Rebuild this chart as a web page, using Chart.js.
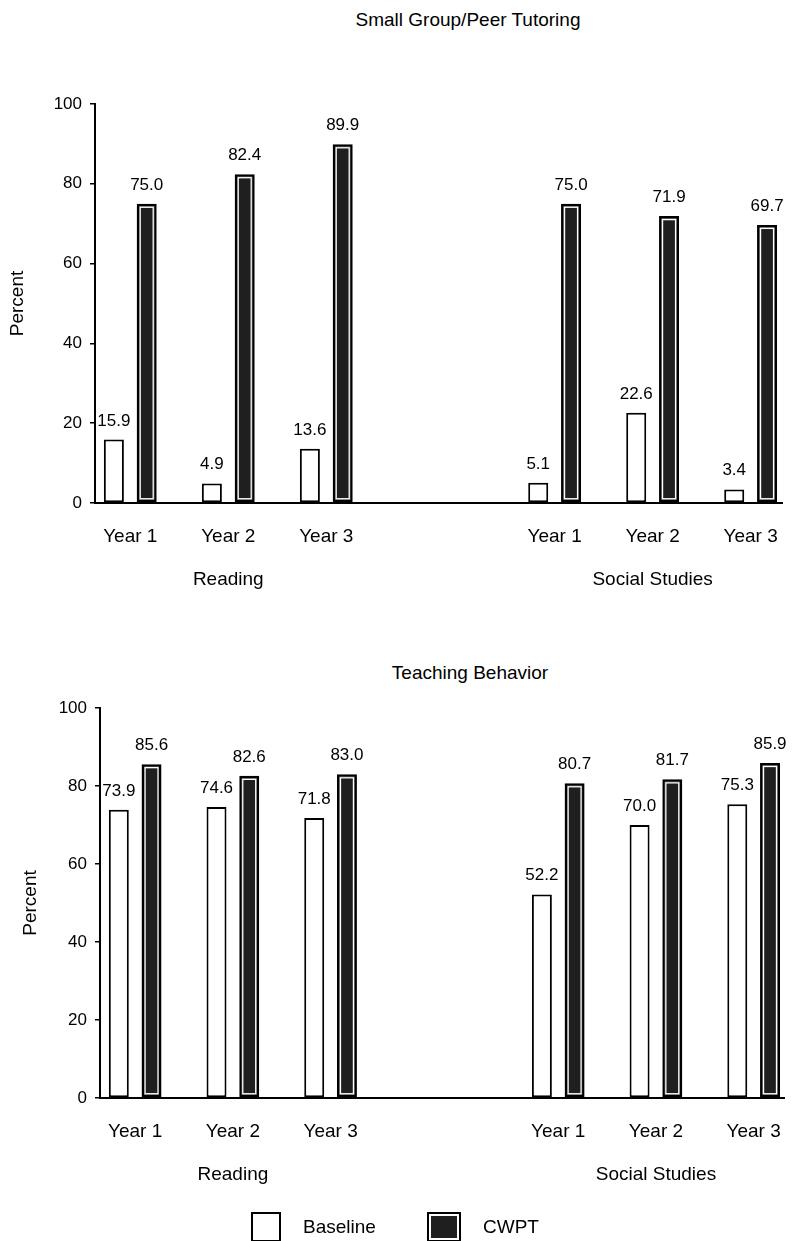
<!DOCTYPE html>
<html>
  <head>
    <title>Small Group/Peer Tutoring and Teaching Behavior</title>
    <script src="https://cdn.jsdelivr.net/npm/chart.js"></script>
    <style>
      body {
        margin: 0;
        width: 795px;
        height: 1241px;
        position: relative;
        overflow: hidden;
        background: #fff;
        font-family: "Liberation Sans", Arial, sans-serif;
        color: #000;
      }
      canvas {
        position: absolute;
        left: 0;
      }
      .titulo {
        position: absolute;
        font-size: 19px;
        line-height: 20px;
        white-space: nowrap;
        transform: translateX(-50%);
      }
      .chave {
        position: absolute;
        top: 1212px;
        font-size: 19px;
        line-height: 30px;
        white-space: nowrap;
      }
      .caixa {
        display: inline-block;
        width: 26px;
        height: 26px;
        border: 2px solid #000;
        vertical-align: top;
        margin-right: 22px;
      }
    </style>
  </head>

  <body>
    <div class="titulo" style="left: 468px; top: 10px">Small Group/Peer Tutoring</div>
    <canvas id="tutoria" width="795" height="620" style="top: 0"></canvas>

    <div class="titulo" style="left: 470px; top: 663px">Teaching Behavior</div>
    <canvas id="ensino" width="795" height="621" style="top: 620px"></canvas>

    <div class="chave" style="left: 251px">
      <span class="caixa" style="background: #fff"></span>Baseline
    </div>
    <div class="chave" style="left: 427px">
      <span class="caixa" style="background: #1f1f1f; width: 30px; box-shadow: inset 0 0 0 2px #fff"></span>CWPT
    </div>

    <script>
      var years = ["Year 1", "Year 2", "Year 3"];
      var subjects = ["Reading", "Social Studies"];
      var yTicks = [0, 20, 40, 60, 80, 100];

      // Small Group/Peer Tutoring: Reading Y1-Y3, then Social Studies Y1-Y3
      var tutoringBaseline = [15.9, 4.9, 13.6, 5.1, 22.6, 3.4];
      var tutoringCwpt = [75.0, 82.4, 89.9, 75.0, 71.9, 69.7];

      // Teaching Behavior
      var teachingBaseline = [73.9, 74.6, 71.8, 52.2, 70.0, 75.3];
      var teachingCwpt = [85.6, 82.6, 83.0, 80.7, 81.7, 85.9];

      // Social Studies starts this many "years" to the right of Reading
      var SUBJECT_GAP = 4.33;

      function xPos(i) {
        return Math.floor(i / years.length) * SUBJECT_GAP + (i % years.length);
      }

      function pontos(valores) {
        return valores.map(function (v, i) {
          return { x: xPos(i), y: v };
        });
      }

      Chart.defaults.font.family = "'Liberation Sans', Arial, sans-serif";
      Chart.defaults.color = "#000";

      var enfeites = {
        id: "enfeites",
        afterDatasetsDraw: function (chart) {
          var ctx = chart.ctx;
          ctx.save();

          // linha branca interna das barras CWPT
          chart.getDatasetMeta(1).data.forEach(function (bar) {
            var p = bar.getProps(["x", "y", "base", "width"], true);
            ctx.strokeStyle = "#fff";
            ctx.lineWidth = 1.3;
            ctx.strokeRect(p.x - p.width / 2 + 3.5, p.y + 3.5, p.width - 7, p.base - p.y - 7);
          });

          // valores em cima das barras
          ctx.font = "17px 'Liberation Sans', Arial, sans-serif";
          ctx.fillStyle = "#000";
          ctx.textAlign = "center";
          ctx.textBaseline = "alphabetic";
          chart.data.datasets.forEach(function (ds, d) {
            chart.getDatasetMeta(d).data.forEach(function (bar, i) {
              ctx.fillText(ds.data[i].y.toFixed(1), bar.x, bar.y - 14);
            });
          });

          // nome da disciplina embaixo dos anos
          var xs = chart.scales.x;
          ctx.font = "19px 'Liberation Sans', Arial, sans-serif";
          ctx.textBaseline = "middle";
          subjects.forEach(function (s, k) {
            ctx.fillText(s, xs.getPixelForValue(k * SUBJECT_GAP + 1), xs.top + 77);
          });

          ctx.restore();
        },
      };

      function grafico(id, baseline, cwpt, caixa) {
        return new Chart(document.getElementById(id).getContext("2d"), {
          type: "bar",
          data: {
            datasets: [
              {
                label: "Baseline",
                data: pontos(baseline),
                backgroundColor: "#fff",
                borderColor: "#000",
                borderWidth: 2,
                borderSkipped: false,
              },
              {
                label: "CWPT",
                data: pontos(cwpt),
                backgroundColor: "#1f1f1f",
                borderColor: "#000",
                borderWidth: 2.5,
                borderSkipped: false,
              },
            ],
          },
          options: {
            responsive: false,
            animation: false,
            categoryPercentage: 0.67,
            barPercentage: 0.61,
            layout: {
              padding: { left: caixa.left, right: caixa.right, top: caixa.top, bottom: 0 },
            },
            plugins: {
              legend: { display: false },
              tooltip: { enabled: false },
            },
            scales: {
              x: {
                type: "linear",
                offset: false,
                min: -0.36,
                max: 6.65,
                grid: { display: false },
                border: { color: "#000", width: 2 },
                afterBuildTicks: function (s) {
                  s.ticks = baseline.map(function (v, i) {
                    return { value: xPos(i) };
                  });
                },
                ticks: {
                  font: { size: 19 },
                  padding: 14,
                  autoSkip: false,
                  maxRotation: 0,
                  callback: function (v, i) {
                    return years[i % years.length];
                  },
                },
                afterFit: function (s) {
                  s.height = caixa.xHeight;
                },
              },
              y: {
                min: 0,
                max: 100,
                afterBuildTicks: function (s) {
                  s.ticks = yTicks.map(function (v) {
                    return { value: v };
                  });
                },
                grid: { drawOnChartArea: false, color: "#000", tickLength: 5, lineWidth: 1.5 },
                border: { color: "#000", width: 2 },
                ticks: { font: { size: 17 }, padding: 8 },
                title: {
                  display: true,
                  text: "Percent",
                  font: { size: 19 },
                  padding: { top: 4, bottom: 0 },
                },
                afterFit: function (s) {
                  s.width = caixa.yWidth;
                },
              },
            },
          },
          plugins: [enfeites],
        });
      }

      grafico("tutoria", tutoringBaseline, tutoringCwpt, {
        left: 2, right: 13, top: 104, yWidth: 93, xHeight: 117,
      });
      grafico("ensino", teachingBaseline, teachingCwpt, {
        left: 15, right: 5, top: 88, yWidth: 85, xHeight: 143,
      });
    </script>
  </body>
</html>
